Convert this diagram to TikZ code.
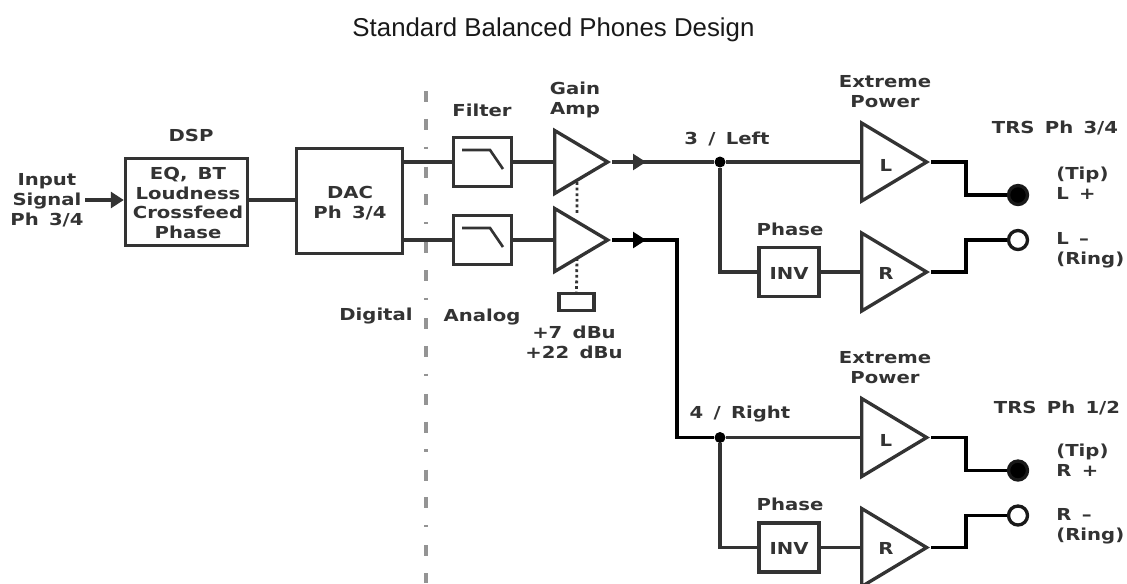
\documentclass[tikz,border=0pt]{standalone}
\usepackage{fontspec}
\setmainfont{Liberation Sans}
\newfontfamily\lblfont[FakeStretch=1.19,WordSpace=1.5]{DejaVu Sans}
\usetikzlibrary{arrows.meta,shapes.geometric}
\tikzset{
	wire/.style={line width=1.8pt,draw=black!80},
	outwire/.style={line width=2pt,draw=black},
	head/.style={-{Triangle[length=7.4pt,width=9pt]}},
	box/.style={draw=black!80,line width=1.9pt,inner sep=0pt},
	amp/.style 2 args={isosceles triangle,isosceles triangle stretches,draw=black!80,line width=1.9pt,inner sep=0pt,anchor=west,minimum height=#1*0.02cm,minimum width=#2*0.02cm},
	lbl/.style={font=\lblfont\bfseries\fontsize{9.4}{11.3}\selectfont,text=black!80,align=center,inner sep=0pt},
	lft/.style={lbl,align=left,anchor=west},
	jack/.style={circle,draw=black!90,line width=1.9pt,minimum size=19*0.02cm,inner sep=0pt},
	dot/.style={circle,fill=black,minimum size=11*0.02cm,inner sep=0pt}
}
\begin{document}
\begin{tikzpicture}[x=0.02cm,y=-0.02cm]
	\useasboundingbox (0,0) rectangle (1127,583);
	\clip (0,0) rectangle (1127,583);
	\draw[black!42,line width=1.8pt,dash pattern=on 6.2pt off 9.6pt on 6.2pt off 9.6pt on 1.2pt off 10.3pt] (426,91)--(426,583);
	\node[font=\fontsize{14.7}{16}\selectfont,text=black!90] (title) at (553.5,29.5) {Standard Balanced Phones Design};
	% input side
	\node[lbl] (input) at (47,200) {Input\\Signal\\Ph 3/4};
	\node[box,minimum width=122*0.02cm,minimum height=87*0.02cm] (dsp) at (186.5,202) {};
	\node[lbl] at (188,203) (dsptext) {EQ, BT\\Loudness\\Crossfeed\\Phase};
	\node[lbl] (dsplabel) at (191,135) {DSP};
	\node[box,minimum width=106*0.02cm,minimum height=105*0.02cm] (dac) at (349.5,201) {};
	\node[lbl] (dactext) at (350,203) {DAC\\Ph 3/4};
	\coordinate (inputend) at (85,200);
	\draw[wire,head] (inputend)--(inputend-|dsp.west);
	\draw[wire] (dsp.east|-0,200)--(dac.west|-0,200);
	\node[lbl] (digital) at (376,316) {Digital};
	\node[lbl] (analog) at (482,317) {Analog};
	\node[lbl] (filterlabel) at (482,110) {Filter};
	\node[lbl] (gainlabel) at (575,100) {Gain\\Amp};
	% filter and gain amp, two channels
	\foreach \ch/\dy in {1/0,2/78}{
		\node[box,minimum width=58*0.02cm,minimum height=49*0.02cm] (flt\ch) at (482.5,162+\dy) {};
		\draw[wire,line width=1.5pt] (462,150+\dy)--(490,150+\dy)--(503,169+\dy);
		\node[amp={53}{63}] (gain\ch) at (553,162+\dy) {};
		\coordinate (arrow\ch) at (646,162+\dy);
		\draw[wire] (dac.east|-flt\ch.west)--(flt\ch.west);
		\draw[wire] (flt\ch.east)--(gain\ch.west);
	}
	\node[box,minimum width=35*0.02cm,minimum height=17*0.02cm] (level) at (576.5,302) {};
	\node[lbl] (levels) at (574,342) {+7 dBu\\+22 dBu};
	\coordinate (linka) at (577,182);
	\coordinate (linkb) at (577,215);
	\coordinate (linkc) at (577,258);
	\draw[line width=1.6pt,draw=black!80,dash pattern=on 1.6pt off 1.6pt] (linka)--(linkb) (linkc)--(level.north);
	% power amps, two outputs
	\foreach \ch/\dy in {1/0,2/275.5}{
		\node[amp={65}{78}] (pwl\ch) at (860,162+\dy) {};
		\node[amp={65}{78}] (pwr\ch) at (860,272+\dy) {};
		\node[lbl] (pll\ch) at (886,165+\dy) {L};
		\node[lbl] (prl\ch) at (886,273+\dy) {R};
		\node[box,minimum width=60*0.02cm,minimum height=49*0.02cm] (inv\ch) at (789,272+\dy) {};
		\node[lbl] (invt\ch) at (789,273+\dy) {INV};
		\node[lbl] (phase\ch) at (790,229+\dy) {Phase};
		\node[lbl] (extreme\ch) at (885,92+\dy) {Extreme\\Power};
		\node[dot] (join\ch) at (720,162+\dy) {};
		\node[jack,fill=black] (tip\ch) at (1018,195+\dy) {};
		\node[jack,fill=white] (ring\ch) at (1018,240+\dy) {};
		\draw[wire] (join\ch)--(pwl\ch.west);
		\draw[wire] (join\ch)|-(inv\ch.west);
		\draw[wire] (inv\ch.east)--(pwr\ch.west);
		\draw[outwire] (pwl\ch.apex)-|(966,195+\dy)--(tip\ch);
		\draw[outwire] (pwr\ch.apex)-|(966,240+\dy)--(ring\ch);
	}
	\draw[wire] (gain1.apex)--(join1);
	\draw[wire,head] (gain1.apex)--(arrow1);
	\draw[outwire] (gain2.apex)-|(677,437.5)--(join2);
	\draw[outwire,head] (gain2.apex)--(arrow2);
	\node[lbl] (left) at (727,139) {3 / Left};
	\node[lbl] (right) at (740,414) {4 / Right};
	\node[lbl] (trsa) at (1055,128) {TRS Ph 3/4};
	\node[lbl] (trsb) at (1057,408) {TRS Ph 1/2};
	\node[lft] (tipa) at (1056,183.5) {(Tip)\\L +};
	\node[lft] (ringa) at (1056,250) {L –\\(Ring)};
	\node[lft] (tipb) at (1056,460.5) {(Tip)\\R +};
	\node[lft] (ringb) at (1056,526) {R –\\(Ring)};
\end{tikzpicture}
\end{document}
